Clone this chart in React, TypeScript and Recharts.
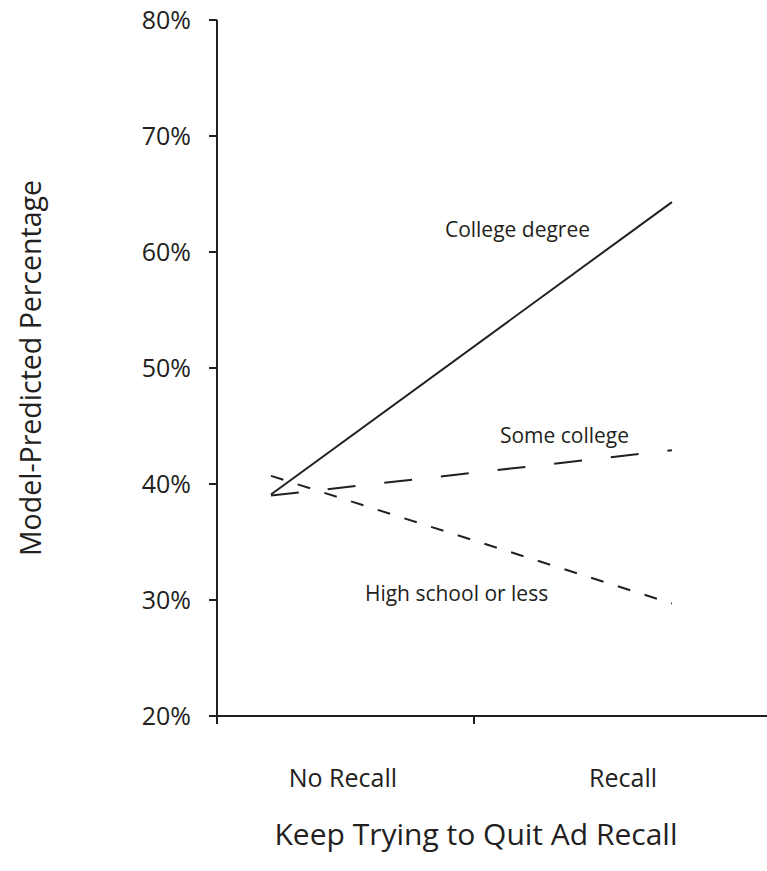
import React from "react";
import { Label, Line, LineChart, XAxis, YAxis } from "recharts";

// x positions are in axis units: 0 = y-axis, 1 = middle tick
const xPositions = [0.21, 1.77];
const collegeDegree = [39.1, 64.3];
const someCollege = [39.0, 42.9];
const highSchool = [40.7, 29.7];

const categoryTicks = [0.49, 1.58];
const categoryNames = ["No Recall", "Recall"];
const yTicks = [20, 30, 40, 50, 60, 70, 80];

const data = xPositions.map((x, i) => ({
  x,
  college: collegeDegree[i],
  some: someCollege[i],
  high: highSchool[i],
}));

const ink = "#231f20";
const font = "'Open Sans', sans-serif";
const axisStroke = { stroke: ink, strokeWidth: 2 };

const endLabel = (text: string, dx: number, dy: number) => (props: any) => {
  if (props.index !== data.length - 1) return null;
  return (
    <text
      x={props.x + dx}
      y={props.y + dy}
      fill={ink}
      fontSize={21}
      fontFamily={font}
      dominantBaseline="central"
    >
      {text}
    </text>
  );
};

export default function App() {
  return (
    <div style={{ position: "absolute", left: 0, top: 0, background: "#fff" }}>
      <LineChart
        width={767}
        height={871}
        data={data}
        margin={{ top: 20, right: 0, left: 0, bottom: 0 }}
      >
        <YAxis
          type="number"
          domain={[20, 80]}
          ticks={yTicks}
          width={217}
          tickFormatter={(v: number) => `${v}%`}
          tickSize={8}
          tickMargin={18}
          axisLine={axisStroke}
          tickLine={axisStroke}
          tick={{ fill: ink, fontSize: 25, fontFamily: font }}
        >
          <Label
            value="Model-Predicted Percentage"
            angle={-90}
            position="center"
            dx={-78}
            style={{ fill: ink, fontSize: 28.5, fontFamily: font }}
          />
        </YAxis>
        <XAxis
          type="number"
          dataKey="x"
          domain={[0, 2.14]}
          ticks={[0, 1]}
          height={10}
          tick={() => <g />}
          tickSize={8}
          axisLine={axisStroke}
          tickLine={axisStroke}
          allowDataOverflow
        />
        <XAxis
          xAxisId="names"
          type="number"
          dataKey="x"
          domain={[0, 2.14]}
          ticks={categoryTicks}
          tickFormatter={(v: number) => categoryNames[categoryTicks.indexOf(v)]}
          height={145}
          axisLine={false}
          tickLine={false}
          tickSize={0}
          tickMargin={43}
          tick={{ fill: ink, fontSize: 25, fontFamily: font }}
        >
          <Label
            value="Keep Trying to Quit Ad Recall"
            position="insideBottom"
            offset={26}
            dx={-16}
            style={{ fill: ink, fontSize: 30, fontFamily: font }}
          />
        </XAxis>
        <Line
          dataKey="college"
          stroke={ink}
          strokeWidth={2}
          dot={false}
          isAnimationActive={false}
          label={endLabel("College degree", -227, 27)}
        />
        <Line
          dataKey="some"
          stroke={ink}
          strokeWidth={2}
          strokeDasharray="28 29"
          dot={false}
          isAnimationActive={false}
          label={endLabel("Some college", -172, -15)}
        />
        <Line
          dataKey="high"
          stroke={ink}
          strokeWidth={2}
          strokeDasharray="13 15"
          dot={false}
          isAnimationActive={false}
          label={endLabel("High school or less", -307, -10)}
        />
      </LineChart>
    </div>
  );
}
